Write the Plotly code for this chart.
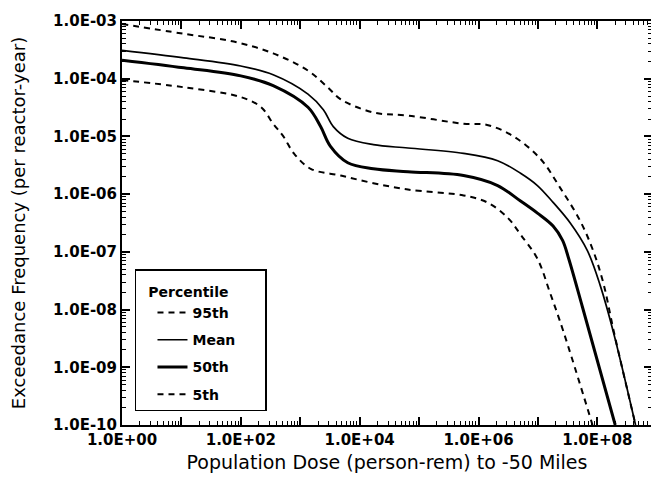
import plotly.graph_objects as go

# Population dose (person-rem) and exceedance frequency (per reactor-year)
dose_95 = [1, 11, 76, 350, 1350, 2900, 4800, 17000, 65000, 5.6e5, 1.4e6, 3.9e6,
           1.1e7, 2.4e7, 5.1e7, 8.5e7, 1.26e8, 1.9e8, 4.4e8]
freq_95 = [8.9e-4, 6.0e-4, 4.4e-4, 2.75e-4, 1.38e-4, 7.1e-5, 4.4e-5, 2.6e-5, 2.3e-5,
           1.66e-5, 1.58e-5, 1.0e-5, 4.1e-6, 1.26e-6, 3.5e-7, 1.05e-7, 2.9e-8, 4.1e-9, 1.0e-10]

dose_mean = [1, 11, 100, 350, 1350, 2450, 3600, 6300, 17000, 65000, 5.6e5, 2.1e6,
             5.1e6, 9.8e6, 1.8e7, 3.5e7, 6.8e7, 1.12e8, 1.86e8, 4.4e8]
freq_mean = [3.1e-4, 2.3e-4, 1.66e-4, 1.17e-4, 5.4e-5, 2.9e-5, 1.48e-5, 9.3e-6, 7.2e-6,
             6.3e-6, 5.1e-6, 3.8e-6, 2.3e-6, 1.41e-6, 7.2e-7, 3.16e-7, 1.05e-7, 2.6e-8,
             4.1e-9, 1.0e-10]

dose_50 = [1, 11, 100, 350, 1350, 2200, 3200, 6300, 17000, 65000, 5.6e5, 2.1e6,
           5.1e6, 9.8e6, 1.8e7, 2.6e7, 3.3e7, 5.6e7, 2.0e8]
freq_50 = [2.1e-4, 1.55e-4, 1.12e-4, 7.6e-5, 3.2e-5, 1.48e-5, 6.8e-6, 3.5e-6, 2.75e-6,
           2.45e-6, 2.1e-6, 1.41e-6, 7.6e-7, 4.7e-7, 2.8e-7, 1.58e-7, 7.6e-8, 1.12e-8, 1.0e-10]

dose_5 = [1, 11, 100, 220, 350, 520, 780, 1500, 4800, 17000, 65000, 5.6e5, 1.4e6,
          3.1e6, 5.1e6, 9.8e6, 1.6e7, 2.7e7, 8.3e7]
freq_5 = [9.5e-5, 7.1e-5, 4.8e-5, 3.2e-5, 1.66e-5, 1.0e-5, 5.1e-6, 2.75e-6, 2.1e-6,
          1.55e-6, 1.2e-6, 9.5e-7, 7.2e-7, 3.9e-7, 2.0e-7, 7.6e-8, 1.95e-8, 4.1e-9, 1.0e-10]

x_tickvals = [1e0, 1e1, 1e2, 1e3, 1e4, 1e5, 1e6, 1e7, 1e8]
x_ticktext = ["1.0E+00", "", "1.0E+02", "", "1.0E+04", "", "1.0E+06", "", "1.0E+08"]
y_tickvals = [1e-10, 1e-9, 1e-8, 1e-7, 1e-6, 1e-5, 1e-4, 1e-3]
y_ticktext = ["1.0E-10", "1.0E-09", "1.0E-08", "1.0E-07", "1.0E-06", "1.0E-05", "1.0E-04", "1.0E-03"]

FONT = "DejaVu Sans"
dash = "6px,5px"

fig = go.Figure()
fig.add_trace(go.Scatter(x=dose_95, y=freq_95, name="95th", mode="lines", legendgroup="a",
                         line=dict(color="black", width=2, dash=dash, shape="spline", smoothing=1.0)))
fig.add_trace(go.Scatter(x=dose_mean, y=freq_mean, name="Mean", mode="lines", legendgroup="b",
                         line=dict(color="black", width=1.7, shape="spline", smoothing=1.0)))
fig.add_trace(go.Scatter(x=dose_50, y=freq_50, name="50th", mode="lines", legendgroup="c",
                         line=dict(color="black", width=3, shape="spline", smoothing=1.0)))
fig.add_trace(go.Scatter(x=dose_5, y=freq_5, name="5th", mode="lines", legendgroup="d",
                         line=dict(color="black", width=2, dash=dash, shape="spline", smoothing=1.0)))

axis_common = dict(
    showline=True, linecolor="black", linewidth=2, mirror="ticks",
    ticks="inside", ticklen=8, tickwidth=1.5, tickcolor="black",
    showgrid=False, zeroline=False, ticklabeloverflow="allow",
    tickfont=dict(family=FONT, size=15, color="black", weight="bold"),
    minor=dict(ticks="inside", ticklen=4, tickwidth=1, tickcolor="black",
               dtick="D1", showgrid=False),
)

fig.update_xaxes(type="log", range=[0, 8.92], tickmode="array",
                 tickvals=x_tickvals, ticktext=x_ticktext,
                 title=dict(text="Population Dose (person-rem) to -50 Miles",
                            font=dict(family=FONT, size=19, color="black"), standoff=8),
                 **axis_common)
fig.update_yaxes(type="log", range=[-10, -3], tickmode="array",
                 tickvals=y_tickvals, ticktext=y_ticktext,
                 title=dict(text="Exceedance Frequency (per reactor-year)",
                            font=dict(family=FONT, size=18, color="black"), standoff=28),
                 **axis_common)

# page body adds an 8px offset, so the figure is sized to fit the 659x478 window
fig.update_layout(
    width=651, height=470,
    margin=dict(l=114, r=7, t=4, b=53),
    paper_bgcolor="white", plot_bgcolor="white",
    showlegend=True,
    legend=dict(
        x=0.0245, y=0.385, xanchor="left", yanchor="top",
        bgcolor="white", bordercolor="black", borderwidth=1.5,
        title=dict(text='<span style="font-size:14px">' + "\u00a0" * 2 + "Percentile"
                        + "\u00a0" * 7 + "</span>",
                   font=dict(family=FONT, size=20, color="black", weight="bold")),
        font=dict(family=FONT, size=14, color="black", weight="bold"),
        indentation=16, tracegroupgap=6,
    ),
)

fig.write_html("out.html")
